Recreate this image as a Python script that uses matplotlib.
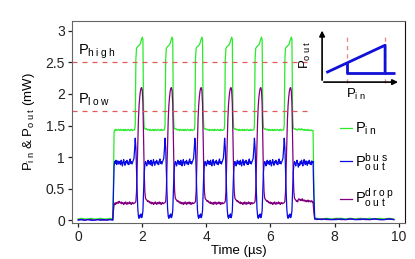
import numpy as np
import matplotlib
matplotlib.use("Agg")
import matplotlib.pyplot as plt

plt.rcParams['font.family'] = ['Liberation Sans', 'DejaVu Sans']
plt.rcParams['mathtext.fontset'] = 'custom'
plt.rcParams['mathtext.rm'] = 'Liberation Sans'
plt.rcParams['mathtext.it'] = 'Liberation Sans:italic'

# ---------------- data ----------------
# pulse rise times (us)
pulse_rise = [1.78, 2.71, 3.64, 4.57, 5.50, 6.43]

# one cycle, offsets relative to the pulse rise (step 0.02 us, -0.50 .. 0.42)
cyc_off = np.round(np.arange(-0.50, 0.43, 0.02), 2)
pin_cyc = [1.43, 1.42, 1.44, 1.43, 1.42, 1.43, 1.44, 1.42, 1.43, 1.42, 1.44, 1.43,
           1.42, 1.43, 1.44, 1.43, 1.42, 1.43, 1.42, 1.44, 1.43, 1.42, 1.43, 1.43,
           1.43, 1.50, 2.55, 2.72, 2.74, 2.75, 2.76, 2.77, 2.78, 2.80, 2.84, 2.87,
           2.90, 2.86, 1.70, 1.47, 1.45, 1.44, 1.45, 1.44, 1.43, 1.44, 1.43]
bus_cyc = [0.90, 0.93, 0.88, 0.95, 0.91, 0.86, 0.92, 0.96, 0.90, 0.87, 0.93, 0.91,
           0.95, 0.89, 0.92, 0.88, 0.94, 0.97, 0.90, 0.93, 0.89, 0.92, 0.95, 0.98,
           1.12, 1.30, 1.15, 0.80, 0.45, 0.18, 0.06, 0.03, 0.08, 0.05, 0.10, 0.04,
           0.07, 0.15, 0.45, 0.75, 0.88, 0.93, 0.90, 0.86, 0.92, 0.95, 0.89]
drop_cyc = [0.30, 0.28, 0.27, 0.29, 0.26, 0.28, 0.27, 0.25, 0.28, 0.26, 0.29, 0.27,
            0.25, 0.28, 0.26, 0.27, 0.29, 0.26, 0.28, 0.25, 0.27, 0.28, 0.26, 0.27,
            0.27, 0.28, 0.30, 0.45, 0.85, 1.30, 1.60, 1.82, 1.95, 2.04, 2.09, 2.10,
            2.05, 1.85, 1.30, 0.75, 0.45, 0.35, 0.33, 0.32, 0.30, 0.31, 0.29]

# before the burst (laser off)
lead_t = [0.00, 0.10, 0.20, 0.30, 0.40, 0.50, 0.60, 0.70, 0.80, 0.90, 1.00, 1.08]
pin_lead = [0.02, 0.03, 0.02, 0.02, 0.03, 0.02, 0.02, 0.03, 0.02, 0.02, 0.03, 0.02]
bus_lead = [0.00, 0.01, 0.00, 0.01, 0.00, 0.00, 0.01, 0.00, 0.01, 0.00, 0.01, 0.00]
drop_lead = [0.01, 0.01, 0.00, 0.01, 0.01, 0.00, 0.01, 0.01, 0.00, 0.01, 0.01, 0.01]

# step on and first baseline
step_t = [1.10, 1.12, 1.14, 1.16, 1.18, 1.20, 1.22, 1.24, 1.26]
pin_step = [0.60, 1.40, 1.43, 1.42, 1.44, 1.43, 1.42, 1.43, 1.44]
bus_step = [0.40, 0.86, 0.93, 0.90, 0.95, 0.88, 0.92, 0.94, 0.89]
drop_step = [0.15, 0.24, 0.27, 0.25, 0.28, 0.26, 0.27, 0.29, 0.27]

# last baseline and switch off
tail_t = [6.87, 6.89, 6.91, 6.93, 6.95, 6.97, 6.99, 7.01, 7.03, 7.05, 7.07, 7.09,
          7.11, 7.13, 7.15, 7.17, 7.19, 7.21, 7.23, 7.25, 7.27, 7.29, 7.31, 7.33,
          7.35, 7.38]
pin_tail = [1.44, 1.45, 1.44, 1.43, 1.44, 1.45, 1.43, 1.44, 1.43, 1.42, 1.44, 1.43,
            1.42, 1.43, 1.44, 1.42, 1.43, 1.42, 1.43, 1.42, 1.43, 1.42, 1.42, 1.42,
            0.70, 0.04]
bus_tail = [0.84, 0.90, 0.87, 0.93, 0.89, 0.95, 0.91, 0.86, 0.92, 0.96, 0.90, 0.88,
            0.94, 0.91, 0.87, 0.93, 0.90, 0.95, 0.89, 0.92, 0.88, 0.94, 0.91, 0.93,
            0.45, 0.02]
drop_tail = [0.33, 0.34, 0.32, 0.33, 0.31, 0.32, 0.34, 0.31, 0.32, 0.30, 0.32, 0.31,
             0.29, 0.31, 0.30, 0.32, 0.29, 0.30, 0.31, 0.29, 0.30, 0.31, 0.28, 0.29,
             0.15, 0.02]

# after the burst
post_t = [7.45, 7.60, 7.75, 7.90, 8.05, 8.20, 8.35, 8.50, 8.65, 8.80, 8.95, 9.10,
          9.25, 9.40, 9.55, 9.70, 9.85]
pin_post = [0.03, 0.02, 0.03, 0.02, 0.03, 0.03, 0.02, 0.03, 0.02, 0.03, 0.02, 0.03,
            0.02, 0.03, 0.02, 0.03, 0.02]
bus_post = [0.02, 0.01, 0.02, 0.01, 0.01, 0.02, 0.01, 0.02, 0.01, 0.01, 0.02, 0.01,
            0.02, 0.01, 0.01, 0.02, 0.01]
drop_post = [0.01, 0.02, 0.01, 0.01, 0.02, 0.01, 0.01, 0.02, 0.01, 0.02, 0.01, 0.01,
             0.02, 0.01, 0.01, 0.02, 0.01]

p_high = 2.5
p_low = 1.73

# inset schematic (axes-fraction units)
ins_line_x = [0.25, 0.81, 0.81]
ins_line_y = [0.39, 0.72, 0.39]
ins_base_x = [0.445, 0.445, 0.905]
ins_base_y = [0.51, 0.39, 0.39]
ins_dash_x = [0.445, 0.81]


def build(lead, step, cyc, tail, post):
    t = list(lead_t) + list(step_t)
    v = list(lead) + list(step)
    for r in pulse_rise:
        t += list(np.round(r + cyc_off, 3))
        v += list(cyc)
    t += list(tail_t) + list(post_t)
    v += list(tail) + list(post)
    return np.array(t), np.array(v)


def spaced(sub, sup=None):
    # letter-spaced sub/superscripts like the original figure
    s = r'\;'.join(sub)
    if sup is None:
        return r'$\mathrm{P_{' + s + '}}$'
    return r'$\mathrm{P^{' + r'\;'.join(sup) + '}_{' + s + '}}$'


t_in, p_in = build(pin_lead, pin_step, pin_cyc, pin_tail, pin_post)
t_bus, p_bus = build(bus_lead, bus_step, bus_cyc, bus_tail, bus_post)
t_drop, p_drop = build(drop_lead, drop_step, drop_cyc, drop_tail, drop_post)

# ---------------- plot ----------------
fig = plt.figure(figsize=(4.15, 2.59), dpi=100)
ax = fig.add_axes([0.173, 0.140, 0.803, 0.780])

green = '#2aea2a'
blue = '#0a0ae6'
purple = '#800080'
red = '#e05a5a'

l1, = ax.plot(t_in, p_in, color=green, lw=0.9)
l3, = ax.plot(t_drop, p_drop, color=purple, lw=0.9)
l2, = ax.plot(t_bus, p_bus, color=blue, lw=0.9)

ax.hlines([p_high, p_low], -0.2, 7.3, colors=red, linestyles=(0, (4, 4)), lw=0.9)
ax.text(0.0, 2.62, spaced('high'), fontsize=10.5)
ax.text(0.0, 1.85, spaced('low'), fontsize=10.5)

ax.set_xlim(-0.2, 10.2)
ax.set_ylim(-0.04, 3.16)
ax.set_xticks([0, 2, 4, 6, 8, 10])
ax.set_yticks([0, 0.5, 1, 1.5, 2, 2.5, 3])
ax.set_yticklabels(['0', '0.5', '1', '1.5', '2', '2.5', '3'])
ax.tick_params(direction='out', length=3, width=0.9, labelsize=10, colors='#222222', pad=2)
ax.set_xlabel('Time (µs)', fontsize=9.5, labelpad=1)
ax.set_ylabel(spaced('in') + ' & ' + spaced('out') + ' (mW)', fontsize=9.5, labelpad=6)
for s in ['left', 'bottom', 'top']:
    ax.spines[s].set_color('#666666')
ax.spines['right'].set_color('#111111')

ax.legend([l1, l2, l3],
          [spaced('in'), spaced('out', 'bus'), spaced('out', 'drop')],
          loc='upper left', bbox_to_anchor=(0.805, 0.505), frameon=False,
          borderpad=0, borderaxespad=0,
          fontsize=10.5, handlelength=0.85, handletextpad=0.2, labelspacing=0.95)

# inset
ins = fig.add_axes([0.723, 0.595, 0.253, 0.32])
ins.set_xlim(0, 1)
ins.set_ylim(0, 1)
ins.axis('off')
ins.annotate('', xy=(0.21, 0.93), xytext=(0.21, 0.265),
             arrowprops=dict(arrowstyle='-|>', color='black', lw=1.2, mutation_scale=8))
ins.annotate('', xy=(0.96, 0.275), xytext=(0.20, 0.275),
             arrowprops=dict(arrowstyle='-|>', color='black', lw=1.2, mutation_scale=8))
for x in ins_dash_x:
    ins.plot([x, x], [0.265, 0.87], color=red, ls=(0, (3, 3)), lw=1.0, alpha=0.7)
ins.plot(ins_line_x, ins_line_y, color='#1010d8', lw=2.0, solid_capstyle='butt')
ins.plot(ins_base_x, ins_base_y, color='#1010d8', lw=2.0, solid_capstyle='butt')
ins.text(0.05, 0.60, spaced('out'), rotation=90, fontsize=9.5,
         ha='center', va='center')
ins.text(0.53, 0.12, spaced('in'), fontsize=9.5, ha='center', va='center')

fig.savefig('out.png', dpi=100)
